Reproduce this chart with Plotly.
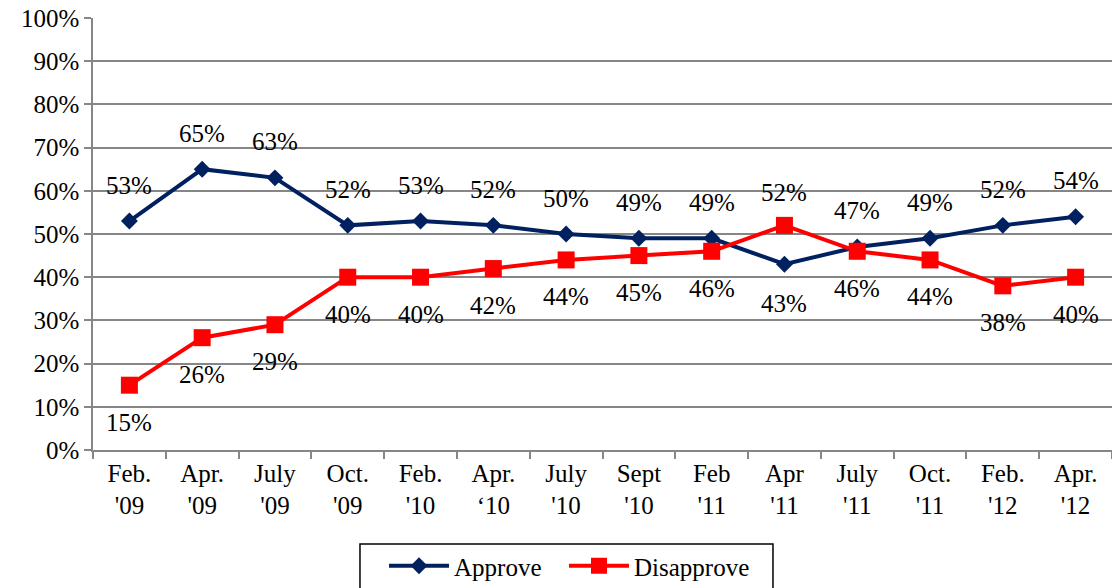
import plotly.graph_objects as go

categories = ["Feb.<br>'09", "Apr.<br>'09", "July<br>'09", "Oct.<br>'09", "Feb.<br>'10", "Apr.<br>‘10",
              "July<br>'10", "Sept<br>'10", "Feb<br>'11", "Apr<br>'11", "July<br>'11", "Oct.<br>'11",
              "Feb.<br>'12", "Apr.<br>'12"]
approve = [53, 65, 63, 52, 53, 52, 50, 49, 49, 43, 47, 49, 52, 54]
disapprove = [15, 26, 29, 40, 40, 42, 44, 45, 46, 52, 46, 44, 38, 40]
y_ticks = [0, 10, 20, 30, 40, 50, 60, 70, 80, 90, 100]
y_tick_labels = [f"{v}%" for v in y_ticks]

FONT = "Liberation Serif"
NAVY = "#002060"
RED = "#FF0000"
GRID = "#868686"

fig = go.Figure()
fig.add_trace(go.Scatter(x=categories, y=approve, name="Approve", mode="lines+markers",
                         line=dict(color=NAVY, width=4), legend="legend",
                         marker=dict(symbol="diamond", size=13, color=NAVY)))
fig.add_trace(go.Scatter(x=categories, y=disapprove, name="Disapprove", mode="lines+markers",
                         line=dict(color=RED, width=4), legend="legend2",
                         marker=dict(symbol="square", size=17, color=RED)))

annotations = []
for c, a, d in zip(categories, approve, disapprove):
    a_above = a >= d
    annotations.append(dict(x=c, y=a, text=f"{a}%", showarrow=False,
                            yshift=36 if a_above else -39,
                            font=dict(family=FONT, size=25, color="black")))
    annotations.append(dict(x=c, y=d, text=f"{d}%", showarrow=False,
                            yshift=-37 if a_above else 33,
                            font=dict(family=FONT, size=25, color="black")))

legend_common = dict(orientation="h", yanchor="top", y=-0.2153, xanchor="left",
                     borderwidth=0, bgcolor="rgba(0,0,0,0)",
                     font=dict(family=FONT, size=25, color="black"), itemwidth=60)

fig.update_layout(
    width=1112, height=588,
    margin=dict(l=93, r=0, t=18, b=138, autoexpand=False),
    paper_bgcolor="white", plot_bgcolor="white",
    font=dict(family=FONT, size=25, color="black"),
    annotations=annotations,
    showlegend=True,
    legend=dict(x=0.2856, **legend_common),
    legend2=dict(x=0.4622, **legend_common),
    shapes=[dict(type="rect", xref="paper", yref="paper", x0=0.2620, x1=0.6673,
                 y0=-0.2176, y1=-0.40, line=dict(color="black", width=1.5),
                 fillcolor="rgba(0,0,0,0)", layer="below")],
    xaxis=dict(range=[-0.5, len(categories) - 0.5], showgrid=False, ticks="outside",
               tickson="boundaries", ticklen=7,
               tickcolor=GRID, tickwidth=1.5, showline=True, linecolor=GRID,
               linewidth=1.5, tickfont=dict(family=FONT, size=25), automargin=False,
               ticklabeloverflow="allow"),
    yaxis=dict(range=[0, 100], tickvals=y_ticks, ticktext=y_tick_labels,
               showgrid=True, gridcolor=GRID, gridwidth=1.5,
               ticks="outside", ticklen=7, tickcolor=GRID, tickwidth=1.5,
               showline=True, linecolor=GRID, linewidth=1.5, zeroline=False,
               tickfont=dict(family=FONT, size=25), automargin=False,
               ticklabeloverflow="allow"),
)

fig.write_html("out.html", config={"displayModeBar": False},
               post_script="document.body.style.margin='0';document.body.style.overflow='hidden';")
